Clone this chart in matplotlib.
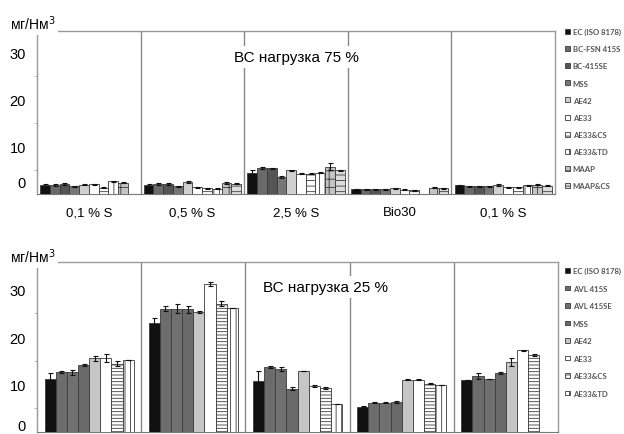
import numpy as np
import matplotlib
matplotlib.use("Agg")
import matplotlib.pyplot as plt
import matplotlib.transforms as mtransforms

plt.rcParams['font.family'] = ['Liberation Sans', 'DejaVu Sans']
plt.rcParams['hatch.linewidth'] = 0.6
plt.rcParams['hatch.color'] = '#333333'

# ---------------- data ----------------
groups_top = ["0,1 % S", "0,5 % S", "2,5 % S", "Bio30", "0,1 % S"]
series_top = ["EC (ISO 8178)", "BC-FSN 415S", "BC-415SE", "MSS", "AE42", "AE33",
              "AE33&CS", "AE33&TD", "MAAP", "MAAP&CS"]
ec_75      = [1.9, 1.9, 4.4, 1.0, 1.8]
bcfsn_75   = [1.9, 2.1, 5.5, 1.0, 1.6]
bc415se_75 = [2.1, 2.1, 5.4, 1.0, 1.6]
mss_75     = [1.6, 1.6, 3.6, 1.0, 1.6]
ae42_75    = [2.0, 2.5, 5.0, 1.2, 1.9]
ae33_75    = [2.1, 1.4, 4.3, 0.9, 1.4]
ae33cs_75  = [1.3, 1.2, 4.3, 0.8, 1.4]
ae33td_75  = [2.7, 1.1, 4.5, np.nan, 1.8]
maap_75    = [2.4, 2.3, 5.8, 1.3, 2.0]
maapcs_75  = [np.nan, 2.2, 5.0, 1.2, 1.7]
err_ec_75   = [0.15, 0.15, 0.6, 0.1, 0.15]
err_maap_75 = [0.15, 0.15, 0.7, 0.1, 0.15]

series_bot = ["EC (ISO 8178)", "AVL 415S", "AVL 415SE", "MSS", "AE42", "AE33",
              "AE33&CS", "AE33&TD"]
ec_25      = [11.1, 23.0, 10.7, 5.3, 10.9]
avl415s_25 = [12.6, 26.0, 13.7, 6.2, 11.8]
avl415se_25= [12.6, 26.0, 13.2, 6.2, 11.2]
mss_25     = [14.1, 25.8, 9.1, 6.3, 12.4]
ae42_25    = [15.5, 25.2, 12.8, 11.0, 14.7]
ae33_25    = [15.6, 31.2, 9.7, 11.0, 17.2]
ae33cs_25  = [14.4, 27.0, 9.2, 10.2, 16.3]
ae33td_25  = [15.2, 26.2, 5.9, 9.9, np.nan]
err_ec_25      = [1.3, 1.0, 2.1, 0.1, 0.0]
err_avl415s_25 = [0.2, 0.5, 0.3, 0.1, 0.7]
err_avl415se_25= [0.5, 0.9, 0.4, 0.1, 0.0]
err_mss_25     = [0.3, 0.7, 0.3, 0.2, 0.2]
err_ae42_25    = [0.5, 0.2, 0.0, 0.1, 0.8]
err_ae33_25    = [0.8, 0.4, 0.2, 0.1, 0.1]
err_ae33cs_25  = [0.6, 0.5, 0.2, 0.1, 0.2]
yticks = [0, 10, 20, 30]

# --------------- styles ---------------
top_vals = [ec_75, bcfsn_75, bc415se_75, mss_75, ae42_75, ae33_75,
            ae33cs_75, ae33td_75, maap_75, maapcs_75]
top_errs = [err_ec_75, [0.15]*5, [0.15]*5, [0.15]*5, [0.15]*5, [0.1]*5,
            [0.1]*5, [0.1]*5, err_maap_75, [0.1]*5]
top_fc = ['#111111', '#6a6a6a', '#555555', '#777777', '#d0d0d0', 'white',
          'white', 'white', '#c4c4c4', '#dddddd']
top_hatch = [None, None, None, None, None, None, '---', '|||', '++', '---']

bot_vals = [ec_25, avl415s_25, avl415se_25, mss_25, ae42_25, ae33_25,
            ae33cs_25, ae33td_25]
bot_errs = [err_ec_25, err_avl415s_25, err_avl415se_25, err_mss_25,
            err_ae42_25, err_ae33_25, err_ae33cs_25, [0]*5]
bot_fc = ['#111111', '#6c6c6c', '#707070', '#6a6a6a', '#c6c6c6', 'white',
          'white', 'white']
bot_hatch = [None, None, None, None, None, None, '-----', '|||']

fig = plt.figure(figsize=(6.24, 4.35), dpi=100)
W, H = 624, 435
ax1 = fig.add_axes([37/W, 1-195/H, (555-37)/W, (195-32)/H])
ax2 = fig.add_axes([37/W, 1-433/H, (558-37)/W, (433-263)/H])

def draw(ax, vals, errs, fcs, hatches, names, width, ymax):
    x = np.arange(5)
    n = len(vals)
    for i in range(n):
        pos = x - width*n/2 + width*(i+0.5)
        e = np.array(errs[i], dtype=float)
        v = np.array(vals[i], dtype=float)
        e = np.where(np.isnan(v), np.nan, e)
        ax.bar(pos, v, width, color=fcs[i], edgecolor='#3a3a3a', linewidth=0.6,
               hatch=hatches[i], label=names[i], zorder=3,
               yerr=e, error_kw=dict(ecolor='#111111', elinewidth=0.8,
                                     capsize=1.8, capthick=0.8, zorder=4))
    ax.set_xlim(-0.5, 4.5)
    ax.set_ylim(0, ymax)
    for s in [0.5, 1.5, 2.5, 3.5]:
        ax.axvline(s, color='#888888', lw=1.0, zorder=1)
    for sp in ['top', 'right']:
        ax.spines[sp].set_color('#999999')
        ax.spines[sp].set_linewidth(1.0)
    ax.spines['left'].set_color('#999999')
    ax.spines['left'].set_linewidth(1.0)
    ax.spines['bottom'].set_color('#777777')
    ax.set_yticks(yticks)
    ax.set_yticks(np.arange(0, 35, 5), minor=True)
    ax.set_yticklabels([str(t) for t in yticks], fontsize=10.5)
    ax.tick_params(axis='y', which='both', length=2.5, color='#aaaaaa',
                   pad=8)
    ax.tick_params(axis='y', which='major', length=0)

draw(ax1, top_vals, top_errs, top_fc, top_hatch, series_top, 0.094, 34.5)
draw(ax2, bot_vals, bot_errs, bot_fc, bot_hatch, series_bot, 0.107, 35.8)

ax1.set_xticks(np.arange(5))
ax1.set_xticklabels(groups_top, fontsize=9.5)
ax1.tick_params(axis='x', length=0, pad=9)
ax2.set_xticks([])

# raise the "0" labels as in the reference
lab0 = ax1.get_yticklabels()[0]
lab0.set_transform(lab0.get_transform() +
                   mtransforms.ScaledTranslation(0, 12/100, fig.dpi_scale_trans))
lab0b = ax2.get_yticklabels()[0]
lab0b.set_transform(lab0b.get_transform() +
                    mtransforms.ScaledTranslation(0, 7/100, fig.dpi_scale_trans))

ax1.text(2.0, 29.0, "ВС нагрузка 75 %", fontsize=11, ha='center', va='center',
         zorder=6, bbox=dict(facecolor='white', edgecolor='none', pad=3))
ax2.text(2.27, 30.5, "ВС нагрузка 25 %", fontsize=11, ha='center', va='center',
         zorder=6, bbox=dict(facecolor='white', edgecolor='none', pad=3))

fig.text(10/W, 1-24/H, "мг/Нм$^3$", fontsize=10, ha='left', va='center',
         bbox=dict(facecolor='white', edgecolor='none', pad=2), zorder=10)
fig.text(10/W, 1-257/H, "мг/Нм$^3$", fontsize=10, ha='left', va='center',
         bbox=dict(facecolor='white', edgecolor='none', pad=2), zorder=10)

leg_kw = dict(frameon=False, handlelength=0.6, handleheight=0.6,
              handletextpad=0.4, borderaxespad=0, borderpad=0,
              prop=dict(family=['Lato', 'DejaVu Sans'], size=5.6, weight='bold'))
l1 = ax1.legend(loc='upper left', bbox_to_anchor=(565/W, 1-29/H),
                bbox_transform=fig.transFigure, labelspacing=1.3, **leg_kw)
l2 = ax2.legend(loc='upper left', bbox_to_anchor=(565/W, 1-268/H),
                bbox_transform=fig.transFigure, labelspacing=1.35, **leg_kw)
for l in (l1, l2):
    for t in l.get_texts():
        t.set_color('#555555')

fig.savefig("out.png", dpi=100)
